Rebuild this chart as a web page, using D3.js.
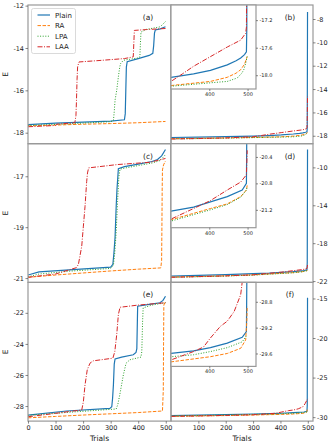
<!DOCTYPE html>
<html>
<head>
<meta charset="utf-8">
<script src="https://cdn.jsdelivr.net/npm/d3@7"></script>
<style>
  body { margin: 0; background: #fff; }
  text { font-family: "DejaVu Sans", sans-serif; fill: #222; }
</style>
</head>
<body>
<div id="chart"></div>
<script>
const width = 332;
const height = 446;

// series names, in legend order
const seriesNames = ["Plain", "RA", "LPA", "LAA"];

// trials (x) and energy (y), [trial, E]
// panel (a)
const aPlain = [[0,-17.62],[100,-17.55],[200,-17.5],[300,-17.45],[350,-17.39],[353,-17.1],[355,-16.0],[357,-14.9],[360,-14.65],[400,-14.5],[440,-14.35],[453,-14.25],[456,-13.9],[459,-13.3],[462,-13.15],[480,-13.1],[499,-13.0]];
const aRA    = [[0,-17.68],[100,-17.64],[200,-17.6],[300,-17.57],[400,-17.53],[499,-17.47]];
const aLPA   = [[0,-17.66],[150,-17.58],[300,-17.48],[310,-17.43],[313,-17.0],[316,-16.46],[322,-16.0],[328,-15.36],[333,-14.9],[336,-14.74],[346,-14.58],[400,-14.47],[406,-14.42],[408,-13.8],[410,-13.25],[430,-13.12],[480,-13.0],[499,-12.75]];
const aLAA   = [[0,-17.72],[100,-17.66],[104,-17.6],[170,-17.53],[174,-17.2],[176,-16.46],[178,-15.5],[180,-14.9],[185,-14.66],[250,-14.6],[350,-14.5],[382,-14.42],[384,-13.8],[386,-13.17],[430,-13.13],[499,-13.08]];

// panel (b)
const bPlain = [[0,-18.15],[100,-18.12],[200,-18.08],[300,-18.03],[359,-17.98],[403,-17.93],[447,-17.85],[470,-17.79],[482,-17.75],[492,-17.7],[497,-17.66],[498,-17.3],[499,-7.4]];
const bRA    = [[0,-18.25],[100,-18.22],[200,-18.19],[300,-18.15],[403,-18.09],[447,-18.03],[470,-17.97],[482,-17.92],[492,-17.84],[499,-17.73]];
const bLPA   = [[0,-18.27],[100,-18.24],[200,-18.2],[300,-18.16],[403,-18.11],[447,-18.09],[473,-18.04],[485,-17.97],[490,-17.92],[495,-17.83],[499,-17.72]];
const bLAA   = [[0,-18.28],[100,-18.24],[200,-18.18],[300,-18.09],[330,-17.98],[359,-17.87],[403,-17.73],[447,-17.59],[482,-17.49],[495,-17.39],[497,-17.3],[498,-16.5],[499,-14.6]];

// panel (c)
const cPlain = [[0,-20.88],[40,-20.76],[150,-20.68],[300,-20.57],[308,-20.46],[312,-20.0],[316,-19.4],[320,-18.2],[323,-17.5],[328,-16.7],[350,-16.62],[400,-16.52],[450,-16.42],[470,-16.34],[485,-16.2],[499,-15.95]];
const cRA    = [[0,-20.97],[100,-20.88],[200,-20.8],[300,-20.72],[400,-20.65],[482,-20.6],[485,-20.3],[486,-19.0],[487,-17.5],[488,-16.75],[492,-16.55],[499,-16.4]];
const cLPA   = [[0,-20.95],[40,-20.84],[150,-20.73],[300,-20.62],[310,-20.5],[315,-20.0],[320,-19.2],[325,-18.0],[330,-17.0],[334,-16.72],[360,-16.66],[400,-16.58],[450,-16.48],[480,-16.38],[499,-16.15]];
const cLAA   = [[0,-20.97],[100,-20.84],[176,-20.59],[183,-20.46],[195,-19.75],[201,-18.96],[207,-18.18],[213,-17.2],[216,-16.87],[220,-16.67],[324,-16.54],[443,-16.45],[499,-16.3]];

// panel (d)
const dPlain = [[0,-21.47],[100,-21.4],[200,-21.32],[300,-21.22],[359,-21.16],[403,-21.08],[447,-21.0],[486,-20.9],[497,-20.8],[498,-20.0],[499,-8.1]];
const dRA    = [[0,-21.58],[100,-21.52],[200,-21.45],[300,-21.35],[403,-21.18],[447,-21.11],[482,-21.0],[497,-20.9],[499,-20.83]];
const dLPA   = [[0,-21.6],[100,-21.54],[200,-21.47],[300,-21.37],[403,-21.2],[447,-21.12],[482,-21.01],[497,-20.9],[499,-20.85]];
const dLAA   = [[0,-21.6],[100,-21.53],[200,-21.45],[300,-21.34],[359,-21.18],[403,-21.06],[447,-20.9],[482,-20.78],[497,-20.67],[498,-20.5],[499,-20.3]];

// panel (e)
const ePlain = [[0,-28.58],[140,-28.32],[297,-28.15],[304,-28.05],[307,-27.5],[310,-26.64],[313,-25.3],[316,-24.97],[340,-24.85],[382,-24.7],[392,-24.55],[395,-24.3],[397,-22.5],[398,-21.57],[440,-21.45],[479,-21.35],[490,-21.2],[499,-20.93]];
const eRA    = [[0,-28.76],[100,-28.67],[200,-28.58],[300,-28.5],[400,-28.42],[488,-28.32],[491,-27.0],[492,-24.0],[493,-21.5],[499,-21.25]];
const eLPA   = [[0,-28.6],[150,-28.4],[320,-28.19],[326,-27.9],[333,-27.29],[346,-26.0],[356,-25.24],[370,-25.02],[410,-24.85],[413,-24.5],[416,-22.5],[418,-21.68],[450,-21.5],[499,-21.35]];
const eLAA   = [[0,-28.69],[127,-28.41],[150,-28.35],[195,-28.26],[201,-27.72],[207,-26.64],[215,-25.67],[225,-25.24],[237,-25.09],[308,-24.92],[315,-24.5],[322,-23.4],[328,-22.11],[334,-21.64],[400,-21.5],[499,-21.35]];

// panel (f)
const fPlain = [[0,-29.8],[100,-29.75],[200,-29.68],[300,-29.6],[359,-29.56],[403,-29.51],[447,-29.44],[486,-29.35],[497,-29.26],[498,-28.5],[499,-14.9]];
const fRA    = [[0,-29.9],[100,-29.85],[200,-29.8],[300,-29.73],[403,-29.65],[447,-29.6],[482,-29.52],[495,-29.39],[498,-29.1],[499,-28.87]];
const fLPA   = [[0,-29.85],[100,-29.8],[200,-29.73],[300,-29.65],[359,-29.62],[403,-29.57],[447,-29.51],[486,-29.42],[499,-29.31]];
const fLAA   = [[0,-29.9],[100,-29.85],[200,-29.78],[300,-29.7],[359,-29.57],[385,-29.5],[403,-29.36],[429,-29.18],[447,-29.1],[465,-28.95],[482,-28.69],[490,-28.3],[496,-27.9],[499,-27.7]];

// tick labels
const xTicks = [0, 100, 200, 300, 400, 500];
const xTicksRight = [100, 200, 300, 400, 500];
const insetXTicks = [400, 500];
const yTicksLeft = [[-18, -16, -14, -12], [-21, -19, -17], [-28, -26, -24, -22]];
const yTicksRight = [[-18, -16, -14, -12, -10, -8], [-22, -18, -14, -10], [-30, -25, -20, -15]];
const yTicksInset = [[-18.0, -17.6, -17.2], [-21.2, -20.8, -20.4], [-29.6, -29.2, -28.8]];

const leftData = [[aPlain, aRA, aLPA, aLAA], [cPlain, cRA, cLPA, cLAA], [ePlain, eRA, eLPA, eLAA]];
const rightData = [[bPlain, bRA, bLPA, bLAA], [dPlain, dRA, dLPA, dLAA], [fPlain, fRA, fLPA, fLAA]];
const leftLabels = ["(a)", "(c)", "(e)"];
const rightLabels = ["(b)", "(d)", "(f)"];

// layout
const colors = ["#1f77b4", "#ff7f0e", "#2ca02c", "#d62728"];
const dashes = [null, "3.5,1.5", "1,1.6", "5,1.5,1,1.5"];
const panelTop = 5;
const panelH = 138.7;
const leftX0 = 28, midX = 171, rightX1 = 313, insetX1 = 256, insetH = 84;
const leftDomains = [[-18.52, -11.97], [-21.17, -15.72], [-28.97, -20.04]];
const rightDomains = [[-18.68, -6.8], [-22.14, -7.5], [-30.5, -12.97]];
const insetDomains = [[-18.2, -16.98], [-21.47, -20.2], [-29.8, -28.5]];
const spineColor = "#999";

const svg = d3.select("#chart")
    .append("svg")
    .attr("width", width)
    .attr("height", height);

const xLeft = d3.scaleLinear().domain([0, 519]).range([leftX0, midX]);
const xRight = d3.scaleLinear().domain([0, 519]).range([midX, rightX1]);
const xInset = d3.scaleLinear().domain([300, 522]).range([midX, insetX1]);

let clipId = 0;

function drawAxes(x, y, x0, x1, y0, y1, lines, withBg) {
    const g = svg.append("g");
    const id = "clip" + (clipId++);
    g.append("clipPath").attr("id", id)
        .append("rect")
        .attr("x", x0).attr("y", y0)
        .attr("width", x1 - x0).attr("height", y1 - y0);
    if (withBg) {
        g.append("rect")
            .attr("x", x0).attr("y", y0)
            .attr("width", x1 - x0).attr("height", y1 - y0)
            .attr("fill", "#fff");
    }
    const line = d3.line().x(d => x(d[0])).y(d => y(d[1]));
    const plot = g.append("g").attr("clip-path", `url(#${id})`);
    lines.forEach((data, i) => {
        plot.append("path")
            .attr("d", line(data))
            .attr("fill", "none")
            .attr("stroke", colors[i])
            .attr("stroke-width", i === 0 ? 1.2 : 1)
            .attr("stroke-dasharray", dashes[i]);
    });
    g.append("rect")
        .attr("x", x0).attr("y", y0)
        .attr("width", x1 - x0).attr("height", y1 - y0)
        .attr("fill", "none")
        .attr("stroke", spineColor)
        .attr("stroke-width", 1.2);
    return g;
}

function styleAxis(ax, fontSize) {
    ax.select(".domain").remove();
    ax.selectAll(".tick line").attr("stroke", "#555").attr("stroke-width", 0.7);
    ax.selectAll(".tick text")
        .attr("font-size", fontSize)
        .attr("fill", "#222")
        .attr("font-family", "DejaVu Sans, sans-serif");
}

for (let r = 0; r < 3; r++) {
    const y0 = panelTop + r * panelH;
    const y1 = y0 + panelH;

    // left panel
    const yL = d3.scaleLinear().domain(leftDomains[r]).range([y1, y0]);
    const gl = drawAxes(xLeft, yL, leftX0, midX, y0, y1, leftData[r], false);
    const axL = gl.append("g")
        .attr("transform", `translate(${leftX0},0)`)
        .call(d3.axisLeft(yL).tickValues(yTicksLeft[r]).tickSize(2.5).tickPadding(1.5).tickFormat(d => String(d)));
    styleAxis(axL, 6.5);
    gl.append("text")
        .attr("x", 148).attr("y", y0 + 15)
        .attr("text-anchor", "middle")
        .attr("font-size", 7.5)
        .text(leftLabels[r]);
    gl.append("text")
        .attr("transform", `translate(8,${(y0 + y1) / 2}) rotate(-90)`)
        .attr("text-anchor", "middle")
        .attr("font-size", 7.5)
        .text("E");

    // right panel
    const yR = d3.scaleLinear().domain(rightDomains[r]).range([y1, y0]);
    const gr = drawAxes(xRight, yR, midX, rightX1, y0, y1, rightData[r], false);
    const axR = gr.append("g")
        .attr("transform", `translate(${rightX1},0)`)
        .call(d3.axisRight(yR).tickValues(yTicksRight[r]).tickSize(2.5).tickPadding(1.5).tickFormat(d => String(d)));
    styleAxis(axR, 6.5);
    gr.append("text")
        .attr("x", 290).attr("y", y0 + 15)
        .attr("text-anchor", "middle")
        .attr("font-size", 7.5)
        .text(rightLabels[r]);

    // inset
    const yI = d3.scaleLinear().domain(insetDomains[r]).range([y0 + insetH, y0]);
    const gi = drawAxes(xInset, yI, midX, insetX1, y0, y0 + insetH, rightData[r], true);
    const axIY = gi.append("g")
        .attr("transform", `translate(${insetX1},0)`)
        .call(d3.axisRight(yI).tickValues(yTicksInset[r]).tickSize(2).tickPadding(1.5).tickFormat(d => d.toFixed(1)));
    styleAxis(axIY, 5);
    const axIX = gi.append("g")
        .attr("transform", `translate(0,${y0 + insetH})`)
        .call(d3.axisBottom(xInset).tickValues(insetXTicks).tickSize(2).tickPadding(1.5).tickFormat(d => String(d)));
    styleAxis(axIX, 5);

    if (r === 2) {
        const axB = gl.append("g")
            .attr("transform", `translate(0,${y1})`)
            .call(d3.axisBottom(xLeft).tickValues(xTicks).tickSize(2.5).tickPadding(1.5).tickFormat(d => String(d)));
        styleAxis(axB, 6.5);
        const axB2 = gr.append("g")
            .attr("transform", `translate(0,${y1})`)
            .call(d3.axisBottom(xRight).tickValues(xTicksRight).tickSize(2.5).tickPadding(1.5).tickFormat(d => String(d)));
        styleAxis(axB2, 6.5);
        svg.append("text").attr("x", (leftX0 + midX) / 2).attr("y", y1 + 19.5)
            .attr("text-anchor", "middle").attr("font-size", 7.5).text("Trials");
        svg.append("text").attr("x", (midX + rightX1) / 2).attr("y", y1 + 19.5)
            .attr("text-anchor", "middle").attr("font-size", 7.5).text("Trials");
    }
}

// legend in panel (a)
const legend = svg.append("g");
legend.append("rect")
    .attr("x", 31.5).attr("y", 8.5)
    .attr("width", 44).attr("height", 45)
    .attr("rx", 2)
    .attr("fill", "#fff")
    .attr("fill-opacity", 0.85)
    .attr("stroke", "#d0d0d0")
    .attr("stroke-width", 0.8);
seriesNames.forEach((name, i) => {
    const ly = 15 + i * 10.6;
    legend.append("line")
        .attr("x1", 37.5).attr("x2", 50)
        .attr("y1", ly).attr("y2", ly)
        .attr("stroke", colors[i])
        .attr("stroke-width", i === 0 ? 1.2 : 1)
        .attr("stroke-dasharray", dashes[i]);
    legend.append("text")
        .attr("x", 55).attr("y", ly + 2.5)
        .attr("font-size", 7)
        .text(name);
});
</script>
</body>
</html>
